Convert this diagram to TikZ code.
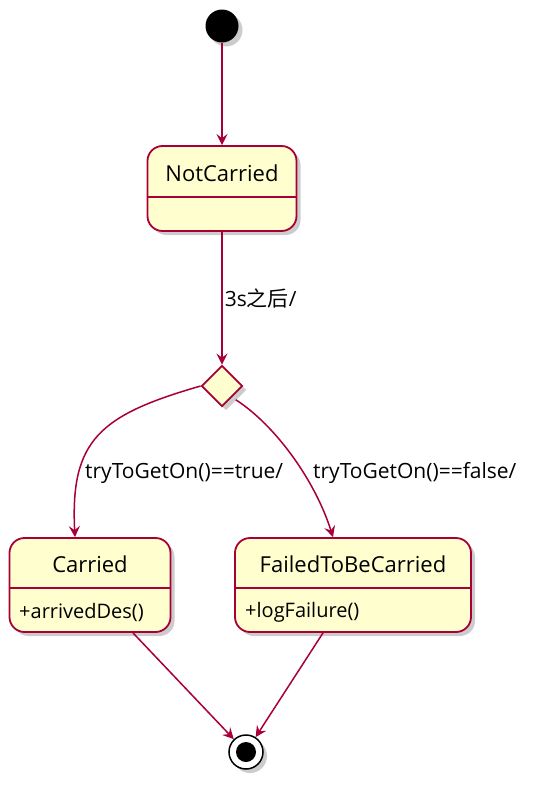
\documentclass[tikz,border=0pt]{standalone}
\usepackage{fontspec}
\setmainfont{Open Sans}
\newfontfamily\cjkfont{Noto Sans CJK SC}
\usetikzlibrary{positioning}
\usetikzlibrary{shapes.geometric}
\usetikzlibrary{arrows.meta}
\usetikzlibrary{shadows}
\definecolor{umlred}{HTML}{A80036}
\definecolor{umlfill}{HTML}{FEFECE}
\tikzset{
	state/.style={
		rectangle,
		draw=umlred,
		fill=umlfill,
		line width=1.8pt,
		rounded corners=15pt,
		drop shadow={shadow xshift=4pt,shadow yshift=-4pt,opacity=.4}
	},
	divider/.style={draw=umlred, line width=1.8pt},
	flow/.style={draw=umlred, line width=1.5pt, -{Stealth[length=11pt,width=11pt,inset=4pt]}},
	statename/.style={font=\fontsize{22}{25}\selectfont},
	edgetext/.style={font=\fontsize{21}{24}\selectfont, inner sep=2pt},
	doline/.style={font=\fontsize{20}{23}\selectfont, inner sep=2pt}
}

\begin{document}
\begin{tikzpicture}[x=1pt,y=-1pt]
	\useasboundingbox (0,0) rectangle (541,790);
	% start and end
	\node[circle, fill=black, minimum size=33pt, inner sep=0, drop shadow={shadow xshift=4pt,shadow yshift=-4pt,opacity=.4}] (Start) at (222,26) {};
	\node[circle, draw=black, fill=white, line width=1.5pt, minimum size=34pt, inner sep=0, drop shadow={shadow xshift=4pt,shadow yshift=-4pt,opacity=.4}] (Final) at (246,752) {};
	\node[circle, fill=black, minimum size=20pt, inner sep=0] (FinalDot) at (Final) {};

	% states
	\node[state, minimum width=149pt, minimum height=85pt] (NotCarried) at (222,188.5) {};
	\node[statename] (NotCarriedName) at (222,173) {NotCarried};
	\draw[divider] (NotCarried.west |- 0,197) -- (NotCarried.east |- 0,197);

	\node[state, diamond, minimum width=41pt, minimum height=41pt, inner sep=0, rounded corners=0pt] (Choice) at (222,386) {};

	\node[state, minimum width=161pt, minimum height=94pt] (Carried) at (90,585) {};
	\node[statename] (CarriedName) at (90,564) {Carried};
	\draw[divider] (Carried.west |- 0,588) -- (Carried.east |- 0,588);
	\node[doline, anchor=west] (CarriedDo) at (17,612) {+arrivedDes()};

	\node[state, minimum width=236pt, minimum height=94pt] (Failed) at (353,585) {};
	\node[statename] (FailedName) at (353,564) {FailedToBeCarried};
	\draw[divider] (Failed.west |- 0,588) -- (Failed.east |- 0,588);
	\node[doline, anchor=west] (FailedDo) at (243,612) {+logFailure()};

	% transitions
	\draw[flow] (Start) -- (NotCarried);
	\draw[flow] (NotCarried) -- node[edgetext, right]{3s{\cjkfont 之后}/} (Choice);
	\draw[flow] (Choice.west) .. controls (100,415) and (70,440) .. ([xshift=-15pt]Carried.north);
	\draw[flow] ([xshift=3pt,yshift=-3pt]Choice.south east) .. controls (275,425) and (315,480) .. ([xshift=-20pt]Failed.north);
	\node[edgetext, anchor=west] (TrueLabel) at (83,473) {tryToGetOn()==true/};
	\node[edgetext, anchor=west] (FalseLabel) at (311,473) {tryToGetOn()==false/};
	\draw[flow] ([xshift=43pt]Carried.south) -- (Final);
	\draw[flow] ([xshift=-30pt]Failed.south) -- (Final);
\end{tikzpicture}
\end{document}
